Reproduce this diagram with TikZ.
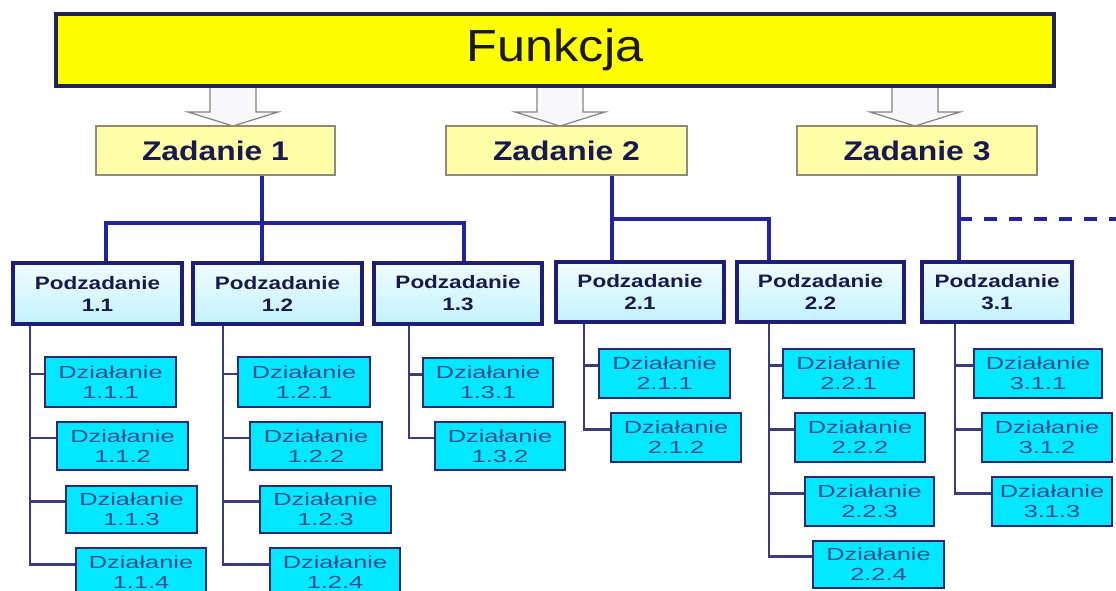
\documentclass[tikz,border=0pt]{standalone}
\usepackage{fontspec}
\setmainfont{Liberation Sans}
\newfontfamily\titlefont[FakeStretch=1.12]{Liberation Sans}
\newfontfamily\zadfont[FakeStretch=1.18]{Liberation Sans}
\newfontfamily\podfont[FakeStretch=1.25]{Liberation Sans}
\newfontfamily\dzfont[FakeStretch=1.45]{Liberation Sans}
\usetikzlibrary{calc}
\definecolor{topyellow}{RGB}{255,255,0}
\definecolor{topborder}{RGB}{35,35,80}
\definecolor{titletext}{RGB}{25,25,30}
\definecolor{zadfill}{RGB}{255,255,170}
\definecolor{zadborder}{RGB}{140,140,120}
\definecolor{zadtext}{RGB}{25,25,80}
\definecolor{podtop}{RGB}{240,253,255}
\definecolor{podbot}{RGB}{195,242,255}
\definecolor{podborder}{RGB}{30,30,120}
\definecolor{podtext}{RGB}{25,25,75}
\definecolor{dzfill}{RGB}{0,232,255}
\definecolor{dzborder}{RGB}{40,40,120}
\definecolor{dztext}{RGB}{50,80,140}
\definecolor{linkblue}{RGB}{35,35,160}
\definecolor{linksub}{RGB}{60,60,120}
\definecolor{arrowgray}{RGB}{130,130,130}
\definecolor{arrowfill}{RGB}{248,248,250}
\newcommand\placebox[7]{\node[#2, minimum width={#5-#3}, minimum height={#6-#4}] (#1) at ({(#3+#5)/2},{(#4+#6)/2}) {#7};}
\begin{document}
\begin{tikzpicture}[x=1pt,y=-1pt,
  topbox/.style={draw=topborder, line width=3.5pt, fill=topyellow, inner sep=0pt,
     font=\titlefont\fontsize{45}{50}\selectfont, text=titletext},
  zadbox/.style={draw=zadborder, line width=1.5pt, fill=zadfill, inner sep=0pt,
     font=\zadfont\bfseries\fontsize{27}{30}\selectfont, text=zadtext},
  podbox/.style={draw=podborder, line width=3.2pt, top color=podtop, bottom color=podbot,
     inner sep=0pt, align=center, font=\podfont\bfseries\fontsize{18}{22}\selectfont, text=podtext},
  dzbox/.style={draw=dzborder, line width=2.4pt, fill=dzfill, inner sep=0pt, align=center,
     font=\dzfont\fontsize{17.5}{20}\selectfont, text=dztext},
  hollow/.style={draw=arrowgray, line width=1.2pt, fill=arrowfill, line join=miter},
  mainlink/.style={draw=linkblue, line width=3.4pt},
  sublink/.style={draw=linksub, line width=2.8pt},
]
\clip (0,0) rectangle (1116,591);
\fill[white] (0,0) rectangle (1116,591);

% hollow arrows (drawn first, top edge hidden under the box)
\coordinate (a1) at (233,84);
\coordinate (a2) at (560,84);
\coordinate (a3) at (915,84);
\foreach \a in {a1,a2,a3}{
  \draw[hollow] ([xshift=-23pt]\a) -- ++(0,28) -- ++(-22,0) -- ++(45,14) -- ++(45,-14) -- ++(-22,0) -- ++(0,-28);
}

% top box
\placebox{top}{topbox}{56}{14}{1054}{86}{Funkcja}

% Zadania
\placebox{z1}{zadbox}{96}{126}{335}{175}{Zadanie 1}
\placebox{z2}{zadbox}{446}{126}{687}{175}{Zadanie 2}
\placebox{z3}{zadbox}{797}{126}{1037}{175}{Zadanie 3}

% Podzadania
\placebox{p11}{podbox}{13}{263}{182}{324}{Podzadanie\\1.1}
\placebox{p12}{podbox}{193}{263}{362}{324}{Podzadanie\\1.2}
\placebox{p13}{podbox}{374}{263}{542}{324}{Podzadanie\\1.3}
\placebox{p21}{podbox}{556}{262}{724}{322}{Podzadanie\\2.1}
\placebox{p22}{podbox}{737}{262}{904}{322}{Podzadanie\\2.2}
\placebox{p31}{podbox}{922}{262}{1072}{322}{Podzadanie\\3.1}

% Dzialania
\placebox{d111}{dzbox}{45}{357}{176}{407}{Działanie\\1.1.1}
\placebox{d112}{dzbox}{57}{422}{188}{470}{Działanie\\1.1.2}
\placebox{d113}{dzbox}{66}{486}{197}{533}{Działanie\\1.1.3}
\placebox{d114}{dzbox}{76}{548}{206}{597}{Działanie\\1.1.4}
\placebox{d121}{dzbox}{238}{357}{370}{407}{Działanie\\1.2.1}
\placebox{d122}{dzbox}{250}{422}{382}{470}{Działanie\\1.2.2}
\placebox{d123}{dzbox}{260}{486}{391}{533}{Działanie\\1.2.3}
\placebox{d124}{dzbox}{270}{548}{400}{597}{Działanie\\1.2.4}
\placebox{d131}{dzbox}{423}{358}{553}{407}{Działanie\\1.3.1}
\placebox{d132}{dzbox}{435}{422}{565}{470}{Działanie\\1.3.2}
\placebox{d211}{dzbox}{599}{349}{730}{398}{Działanie\\2.1.1}
\placebox{d212}{dzbox}{611}{413}{741}{462}{Działanie\\2.1.2}
\placebox{d221}{dzbox}{783}{349}{914}{398}{Działanie\\2.2.1}
\placebox{d222}{dzbox}{795}{413}{925}{462}{Działanie\\2.2.2}
\placebox{d223}{dzbox}{805}{477}{934}{526}{Działanie\\2.2.3}
\placebox{d224}{dzbox}{813}{541}{944}{588}{Działanie\\2.2.4}
\placebox{d311}{dzbox}{974}{349}{1102}{398}{Działanie\\3.1.1}
\placebox{d312}{dzbox}{982}{413}{1112}{462}{Działanie\\3.1.2}
\placebox{d313}{dzbox}{992}{477}{1112}{526}{Działanie\\3.1.3}

% junctions and column positions
\coordinate (j1) at (262,223);
\coordinate (k11) at (106,0);
\coordinate (k13) at (464,0);
\coordinate (j2) at (612,219);
\coordinate (k22) at (769,0);
\coordinate (j3) at (959,219);
\coordinate (e3) at (1120,219);

% Zadanie -> Podzadanie links
\draw[mainlink] (z1.south -| j1) -- (p12.north -| j1);
\draw[mainlink] (p11.north -| k11) |- (j1) -| (p13.north -| k13);
\draw[mainlink] (z2.south -| j2) -- (p21.north -| j2);
\draw[mainlink] (j2) -| (p22.north -| k22);
\draw[mainlink] (z3.south -| j3) -- (p31.north -| j3);
\draw[mainlink, dash pattern=on 13pt off 12pt] (j3) -- (e3);

% trunk x positions
\coordinate (t11) at (30,0);
\coordinate (t12) at (223,0);
\coordinate (t13) at (409,0);
\coordinate (t21) at (584,0);
\coordinate (t22) at (769,0);
\coordinate (t31) at (955,0);

% Podzadanie -> Dzialanie links
\foreach \c in {d111,d112,d113,d114}{\draw[sublink] (p11.south -| t11) |- ([yshift=8pt]\c.west);}
\foreach \c in {d121,d122,d123,d124}{\draw[sublink] (p12.south -| t12) |- ([yshift=8pt]\c.west);}
\foreach \c in {d131,d132}{\draw[sublink] (p13.south -| t13) |- ([yshift=8pt]\c.west);}
\foreach \c in {d211,d212}{\draw[sublink] (p21.south -| t21) |- ([yshift=8pt]\c.west);}
\foreach \c in {d221,d222,d223,d224}{\draw[sublink] (p22.south -| t22) |- ([yshift=8pt]\c.west);}
\foreach \c in {d311,d312,d313}{\draw[sublink] (p31.south -| t31) |- ([yshift=8pt]\c.west);}
\end{tikzpicture}
\end{document}
